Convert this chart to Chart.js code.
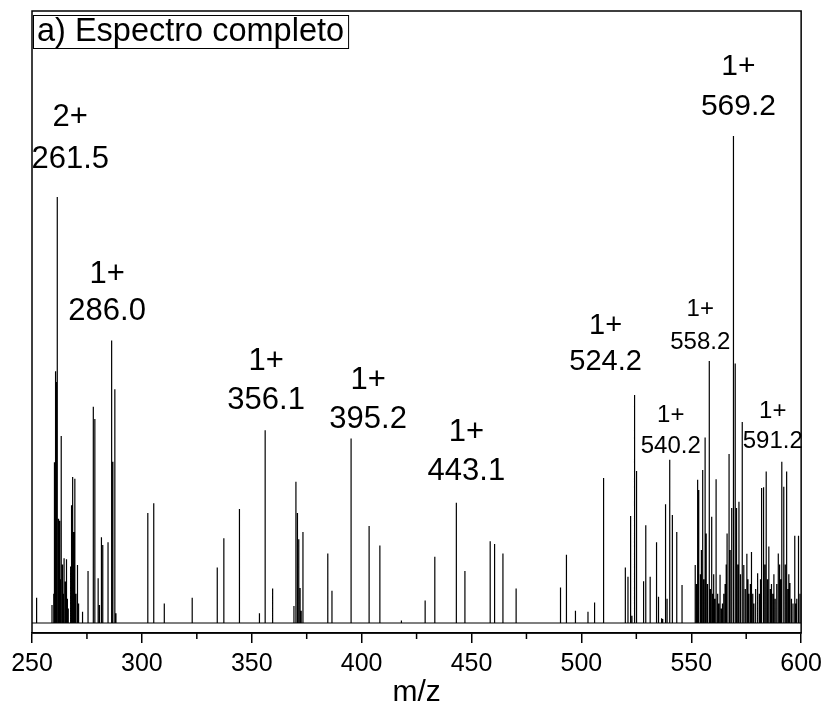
<!DOCTYPE html>
<html>
<head>
<meta charset="utf-8">
<title>Espectro completo</title>
<script src="https://cdn.jsdelivr.net/npm/chart.js@4"></script>
<style>
  html, body { margin: 0; padding: 0; background: #fff; }
  #wrap { width: 828px; height: 714px; position: relative; }
</style>
</head>
<body>
<div id="wrap"><canvas id="espectro"></canvas></div>
<script>
// picos: m/z y intensidad relativa (569.2 = 100)
const peakMz = [
  252.1, 259.1, 259.9, 260.1, 260.3, 260.6, 260.8, 261.2, 261.5, 261.9, 262.2, 262.6, 263.0, 263.3, 263.7,
  264.0, 264.3, 264.6, 265.2, 265.7, 266.1, 266.5, 267.4, 267.7, 268.0, 268.5, 268.8, 269.1, 269.5, 270.0,
  270.7, 271.2, 273.0, 275.5, 277.9, 278.6, 280.1, 280.7, 281.6, 282.2, 284.6, 286.0, 286.4, 286.8, 287.7,
  288.2,
  302.7, 305.4, 310.2, 322.9, 334.3, 337.3, 344.4, 353.5, 356.1, 359.5, 369.2, 370.1, 370.8, 371.4, 372.0,
  372.5, 373.3, 384.6, 386.5, 395.2, 403.4, 408.3, 418.1, 428.9, 433.3, 443.1, 447.0, 458.5, 460.5, 464.3,
  470.3, 490.5, 493.2, 497.3, 503.0, 506.0, 510.1, 520.0, 521.2, 522.4, 523.0, 524.2, 525.1, 528.3, 529.3,
  531.3, 534.2, 535.1, 536.5, 537.0, 538.3, 539.0, 540.2, 541.4, 543.4, 545.8,
  551.8, 552.2, 552.5, 552.9, 553.4, 554.0, 554.3, 554.6, 555.2, 555.7, 556.3, 556.8, 557.4, 558.2, 558.7,
  559.3, 559.8, 560.2, 560.7, 561.3, 562.0, 562.5, 563.1, 563.7, 564.2, 564.8, 565.4, 565.9, 566.3, 567.2,
  567.7, 568.4, 569.2, 570.0, 570.6, 571.2, 571.7, 572.4, 573.2, 573.9, 574.6, 575.3, 575.8, 576.2, 576.9,
  577.4, 578.0, 578.5, 579.3, 580.2, 581.0, 581.5, 582.0, 582.9, 583.5, 584.1, 584.7, 585.3, 586.0, 586.5,
  587.1, 587.6, 588.2, 588.9, 589.6, 590.2, 590.7, 591.2, 592.1, 592.8, 593.4, 594.0, 594.4, 594.9, 595.6,
  596.3, 597.1, 597.6, 598.0, 598.8, 599.5
];
const peakIntensity = [
  5.2, 3.7, 6.0, 12.6, 33.0, 18.0, 51.7, 49.5, 87.5, 14.0, 21.4, 21.0, 9.0, 38.4, 12.0,
  8.0, 6.0, 13.3, 8.5, 13.1, 5.0, 3.0, 11.6, 7.0, 24.2, 30.0, 10.0, 18.7, 29.6, 6.0,
  11.9, 4.0, 2.3, 10.7, 44.4, 41.9, 9.2, 3.7, 17.6, 16.0, 16.6, 58.0, 9.0, 33.1, 48.0,
  2.0,
  22.6, 24.6, 4.0, 5.2, 11.4, 17.4, 23.4, 2.0, 39.6, 7.1, 3.5, 29.0, 22.6, 17.2, 7.2,
  2.5, 18.7, 14.3, 6.6, 37.9, 19.9, 15.9, 0.5, 4.6, 13.6, 24.7, 10.7, 16.8, 16.2, 14.3,
  7.1, 7.3, 14.0, 2.5, 2.3, 4.2, 29.8, 11.4, 9.5, 22.0, 1.5, 46.8, 31.2, 8.6, 20.1,
  9.5, 16.6, 5.4, 1.0, 0.8, 24.4, 5.0, 33.5, 22.2, 18.7, 7.8,
  11.9, 8.0, 5.0, 29.4, 27.3, 10.0, 6.0, 15.0, 31.4, 9.0, 38.1, 18.4, 8.0, 53.8, 7.0,
  21.8, 6.0, 10.0, 5.0, 29.5, 6.0, 4.0, 9.9, 3.0, 4.0, 6.0, 8.0, 12.0, 18.4, 34.7,
  15.0, 23.6, 100.0, 53.3, 23.6, 12.0, 24.9, 10.0, 41.3, 11.9, 7.0, 14.2, 9.0, 6.0, 8.0,
  14.6, 6.0, 4.0, 7.0, 10.2, 6.0, 9.0, 27.7, 27.9, 12.0, 31.1, 9.0, 15.7, 7.0, 8.0,
  6.0, 10.0, 5.0, 8.0, 14.3, 12.0, 9.0, 33.1, 28.0, 12.0, 31.1, 7.0, 10.0, 8.2, 5.0,
  4.0, 17.9, 4.0, 5.0, 17.9, 6.0
];

// picos anotados: carga y m/z
const labelCharge = ['2+', '1+', '1+', '1+', '1+', '1+', '1+', '1+', '1+', '1+'];
const labelMz = [261.5, 286.0, 356.1, 395.2, 443.1, 524.2, 569.2, 558.2, 540.2, 591.2];

// eje x
const xTicks = [250, 300, 350, 400, 450, 500, 550, 600];
const xMinorTicks = [275, 325, 375, 425, 475, 525, 575];

// posición de cada anotación respecto a su pico (px)
const labelLayout = [
  { dx: 13, dy: -37, size: 31, gap: 42 },
  { dx: -4, dy: -29, size: 31, gap: 37 },
  { dx: 1, dy: -30, size: 31, gap: 39 },
  { dx: 17, dy: -19, size: 31, gap: 39 },
  { dx: 10, dy: -31, size: 31, gap: 39 },
  { dx: -29, dy: -33, size: 29, gap: 36 },
  { dx: 5, dy: -29, size: 30, gap: 40 },
  { dx: -9, dy: -19, size: 24, gap: 33 },
  { dx: 1, dy: -13, size: 24, gap: 31 },
  { dx: -9, dy: -20, size: 24, gap: 30 }
];

const FONT = '"Liberation Sans", Arial, sans-serif';

// convertir picos en una traza continua: línea base + barras verticales
const trace = [{ x: xTicks[0], y: 0 }];
peakMz.forEach((mz, i) => {
  trace.push({ x: mz, y: 0 }, { x: mz, y: peakIntensity[i] }, { x: mz, y: 0 });
});
trace.push({ x: xTicks[xTicks.length - 1], y: 0 });

// marco, ticks menores, recuadro del título y anotaciones
const decor = {
  id: 'decor',
  afterDatasetsDraw(chart) {
    const { ctx, chartArea: a, scales: { x, y } } = chart;
    ctx.save();

    ctx.strokeStyle = '#000';
    ctx.lineWidth = 1.5;
    ctx.strokeRect(a.left, a.top, a.right - a.left, a.bottom - a.top);

    ctx.beginPath();
    xMinorTicks.forEach(v => {
      const px = x.getPixelForValue(v);
      ctx.moveTo(px, a.bottom);
      ctx.lineTo(px, a.bottom + 6);
    });
    ctx.stroke();

    // "a) Espectro completo"
    ctx.font = '32.5px ' + FONT;
    ctx.textBaseline = 'middle';
    ctx.textAlign = 'left';
    const title = 'a) Espectro completo';
    const tw = ctx.measureText(title).width;
    ctx.fillStyle = '#fff';
    ctx.fillRect(a.left + 1, a.top + 4, tw + 8, 33);
    ctx.lineWidth = 1;
    ctx.strokeRect(a.left + 1.5, a.top + 4.5, tw + 8, 33);
    ctx.fillStyle = '#000';
    ctx.fillText(title, a.left + 5, a.top + 21);

    // etiquetas de carga y m/z
    ctx.textAlign = 'center';
    labelMz.forEach((mz, i) => {
      const k = peakMz.indexOf(mz);
      const lay = labelLayout[i];
      const px = x.getPixelForValue(mz) + lay.dx;
      const py = y.getPixelForValue(peakIntensity[k]) + lay.dy;
      ctx.font = lay.size + 'px ' + FONT;
      ctx.fillText(mz.toFixed(1), px, py);
      ctx.fillText(labelCharge[i], px, py - lay.gap);
    });

    ctx.restore();
  }
};

new Chart(document.getElementById('espectro'), {
  type: 'line',
  data: {
    datasets: [{
      data: trace,
      borderColor: '#000',
      borderWidth: 1.2,
      pointRadius: 0,
      tension: 0,
      fill: false
    }]
  },
  options: {
    responsive: true,
    maintainAspectRatio: false,
    animation: false,
    devicePixelRatio: 1,
    layout: { padding: { left: 32, right: 25, top: 11, bottom: 0 } },
    plugins: {
      legend: { display: false },
      tooltip: { enabled: false }
    },
    scales: {
      x: {
        type: 'linear',
        min: 250,
        max: 600,
        afterBuildTicks: s => { s.ticks = xTicks.map(v => ({ value: v })); },
        afterFit: s => { s.height = 81; },
        ticks: {
          color: '#000',
          font: { family: FONT, size: 25 },
          padding: 6,
          maxRotation: 0,
          autoSkip: false
        },
        grid: {
          drawOnChartArea: false,
          drawTicks: true,
          tickLength: 10,
          color: '#000',
          lineWidth: 1.5
        },
        border: { display: true, color: '#000', width: 1.5 },
        title: {
          display: true,
          text: 'm/z',
          color: '#000',
          font: { family: FONT, size: 30 },
          padding: { top: 0, bottom: 3 }
        }
      },
      y: {
        display: false,
        min: -2.05,
        max: 125.67
      }
    }
  },
  plugins: [decor]
});
</script>
</body>
</html>
